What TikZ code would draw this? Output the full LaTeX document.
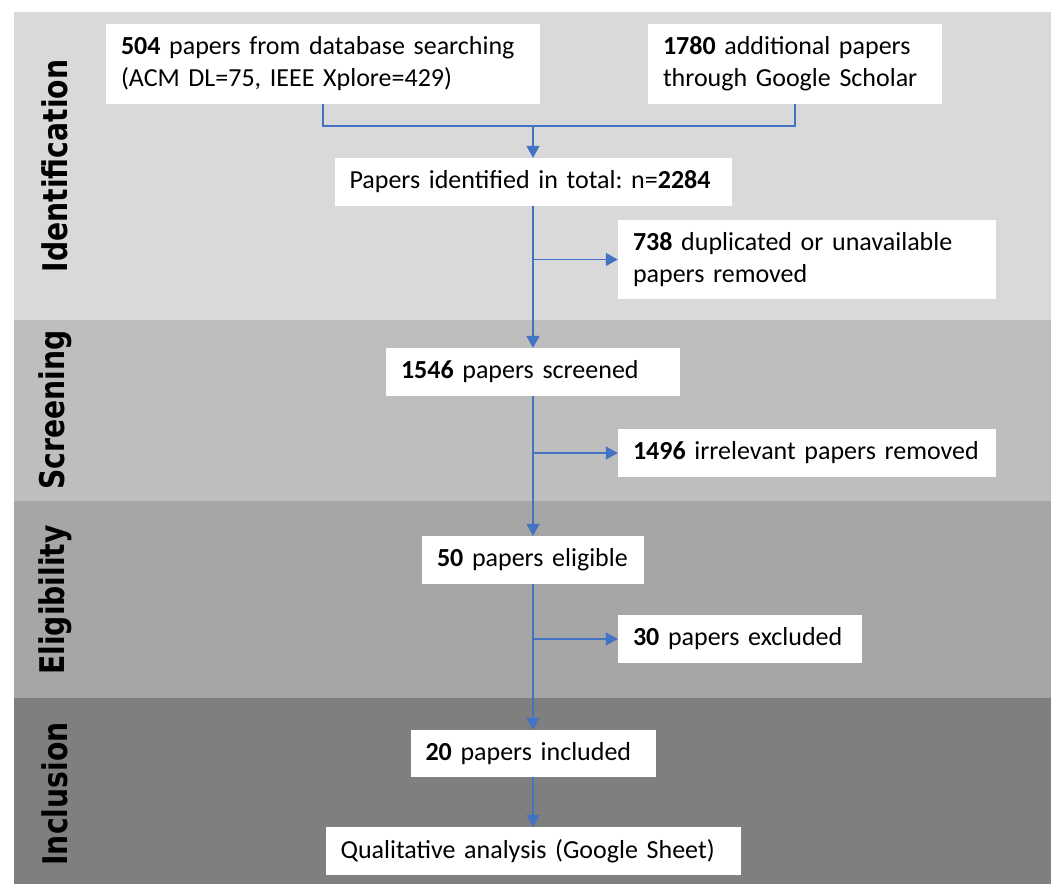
\documentclass[tikz,border=0pt]{standalone}
\usepackage{fontspec}
\setmainfont{Carlito}
\newfontfamily\bandfont{DejaVu Sans}
\usetikzlibrary{arrows.meta}
\frenchspacing
\definecolor{bandident}{HTML}{D9D9D9}
\definecolor{bandscreen}{HTML}{BEBEBE}
\definecolor{bandelig}{HTML}{A6A6A6}
\definecolor{bandincl}{HTML}{7F7F7F}
\definecolor{flowblue}{HTML}{4472C4}
\tikzset{
  paper/.style={fill=white, draw=none, inner xsep=15pt, inner ysep=0pt, align=left,
    minimum height=48pt, font=\fontsize{26}{32}\selectfont},
  flow/.style={draw=flowblue, line width=1.5pt},
  flowarr/.style={flow, -{Triangle[length=12pt,width=13pt]}},
  phase/.style={rotate=90, inner sep=0pt, font=\fontsize{34}{40}\selectfont\bandfont\bfseries}
}

\begin{document}
\begin{tikzpicture}[x=1pt,y=-1pt]
\useasboundingbox (0,0) rectangle (1051,884);

\fill[bandident] (14,12) rectangle (1051,320);
\fill[bandscreen] (14,320) rectangle (1051,501);
\fill[bandelig] (14,501) rectangle (1051,698);
\fill[bandincl] (14,698) rectangle (1051,884);

\node[phase] (identlab) at (55,166) {\scalebox{0.83}[1]{Identification}};
\node[phase] (screenlab) at (55,410) {\scalebox{0.83}[1]{Screening}};
\node[phase] (eliglab) at (55,600) {\scalebox{0.83}[1]{Eligibility}};
\node[phase] (incllab) at (55,794) {\scalebox{0.83}[1]{Inclusion}};

\node[paper, text width=404pt, minimum height=80pt] (db) at (323,64)
  {\textbf{504} papers from database searching\\(ACM DL=75, IEEE Xplore=429)};
\node[paper, text width=264pt, minimum height=80pt] (scholar) at (795,64)
  {\textbf{1780} additional papers\\through Google Scholar};
\node[paper, text width=367pt] (total) at (533,182)
  {Papers identified in total: n=\textbf{2284}};
\node[paper, text width=348pt, minimum height=79pt] (dup) at (807,259.5)
  {\textbf{738} duplicated or unavailable\\papers removed};
\node[paper, text width=264pt] (screened) at (533,372)
  {\textbf{1546} papers screened};
\node[paper, text width=348pt] (irrel) at (807,453)
  {\textbf{1496} irrelevant papers removed};
\node[paper, text width=192pt] (eligible) at (533,560)
  {\textbf{50} papers eligible};
\node[paper, text width=214pt] (excl) at (740,639)
  {\textbf{30} papers excluded};
\node[paper, text width=215pt, minimum height=47pt] (incl) at (533,753.5)
  {\textbf{20} papers included};
\node[paper, text width=385pt] (qual) at (533,851)
  {Qualitative analysis (Google Sheet)};

\coordinate (merge) at (533,126);
\draw[flow] (db.south) |- (merge) -| (scholar.south);
\draw[flowarr] (merge) -- (total.north);
\draw[flowarr] (total.south) -- (screened.north);
\draw[flowarr] (total.south |- dup.west) -- (dup.west);
\draw[flowarr] (screened.south) -- (eligible.north);
\draw[flowarr] (screened.south |- irrel.west) -- (irrel.west);
\draw[flowarr] (eligible.south) -- (incl.north);
\draw[flowarr] (eligible.south |- excl.west) -- (excl.west);
\draw[flowarr] (incl.south) -- (qual.north);
\end{tikzpicture}
\end{document}
